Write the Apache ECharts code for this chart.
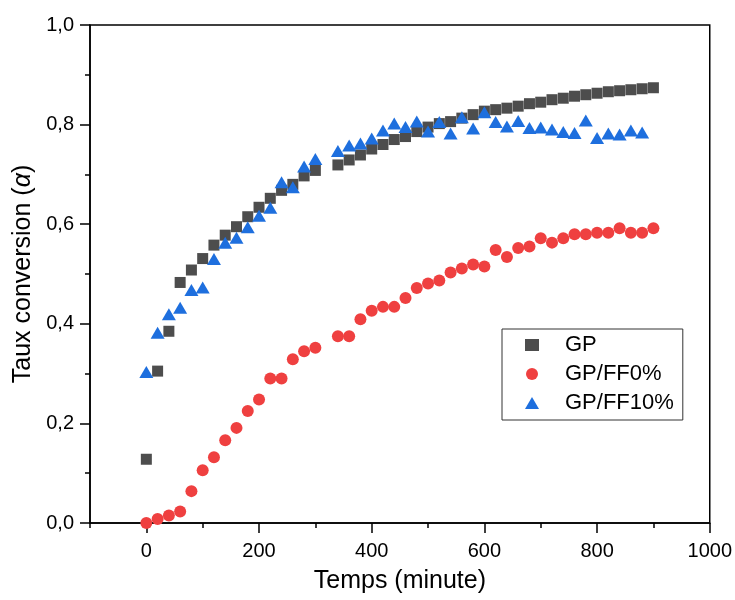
<!DOCTYPE html>
<html>
<head>
<meta charset="utf-8">
<script src="https://cdn.jsdelivr.net/npm/echarts@6/dist/echarts.min.js"></script>
<style>
html,body{margin:0;padding:0;background:#fff;}
#chart{width:735px;height:600px;}
</style>
</head>
<body>
<div id="chart"></div>
<script>
// Time points (minutes)
const timeGP = [0,20,40,60,80,100,120,140,160,180,200,220,240,260,280,300,
  340,360,380,400,420,440,460,480,500,520,540,560,580,600,620,
  640,660,680,700,720,740,760,780,800,820,840,860,880,900];
const timeFF0 = timeGP;
const timeFF10 = [0,20,40,60,80,100,120,140,160,180,200,220,240,260,280,300,
  340,360,380,400,420,440,460,480,500,520,540,560,580,600,620,
  640,660,680,700,720,740,760,780,800,820,840,860,880];

// Conversion rate values
const valGP = [0.128,0.305,0.385,0.483,0.508,0.531,0.558,0.578,0.595,0.615,0.634,0.652,0.668,0.680,0.697,0.708,
  0.719,0.729,0.739,0.751,0.760,0.770,0.776,0.786,0.795,0.802,0.806,0.813,0.820,0.827,0.830,
  0.833,0.837,0.842,0.845,0.850,0.853,0.857,0.860,0.863,0.866,0.868,0.870,0.872,0.874];
const valFF0 = [0.0,0.008,0.015,0.023,0.064,0.106,0.132,0.166,0.191,0.225,0.248,0.290,0.290,0.329,0.345,0.352,
  0.375,0.375,0.409,0.426,0.434,0.434,0.452,0.472,0.481,0.487,0.503,0.511,0.519,0.515,0.548,
  0.534,0.552,0.555,0.572,0.563,0.572,0.580,0.580,0.583,0.583,0.592,0.583,0.583,0.592];
const valFF10 = [0.303,0.382,0.419,0.432,0.468,0.473,0.530,0.563,0.573,0.594,0.617,0.633,0.684,0.674,0.716,0.731,
  0.747,0.758,0.762,0.772,0.788,0.802,0.795,0.806,0.786,0.805,0.782,0.815,0.792,0.825,0.805,
  0.796,0.807,0.793,0.794,0.790,0.785,0.783,0.808,0.773,0.782,0.780,0.788,0.784];

const seriesNames = ['GP','GP/FF0%','GP/FF10%'];
const xMajorTicks = [0,200,400,600,800,1000];
const xMinorTicks = [-100,100,300,500,700,900];

function pairs(xs, ys){ return xs.map((x,i)=>[x, ys[i]]); }

const FONT = 'Liberation Sans, Arial, Helvetica, sans-serif';
const lineStyle = {color:'#000', width:1.5};

const chart = echarts.init(document.getElementById('chart'), null, {renderer:'canvas'});
chart.setOption({
  animation:false,
  backgroundColor:'#fff',
  textStyle:{fontFamily:FONT},
  grid:{left:90, right:25, top:25, bottom:77, show:true, borderColor:'#000', borderWidth:1.5, containLabel:false},
  legend:{
    data:seriesNames,
    orient:'vertical',
    left:502, top:329,
    padding:[5,9,6,23],
    itemWidth:14, itemHeight:12, itemGap:7,
    borderColor:'#333', borderWidth:1,
    textStyle:{fontSize:22, color:'#000', fontFamily:FONT, padding:[0,0,0,21]}
  },
  xAxis:[{
    type:'value', min:-100, max:1000,
    name:'Temps (minute)', nameLocation:'middle', nameGap:46,
    nameTextStyle:{fontSize:25, color:'#000', fontFamily:FONT},
    axisLine:{show:true, onZero:false, lineStyle:lineStyle},
    axisTick:{show:true, inside:false, length:10, customValues:xMajorTicks, lineStyle:lineStyle},
    axisLabel:{customValues:xMajorTicks, fontSize:20, color:'#000', margin:18, fontFamily:FONT,
      formatter:v=>String(v)},
    splitLine:{show:false}
  },{
    type:'value', min:-100, max:1000, position:'bottom',
    axisLine:{show:false, onZero:false},
    axisTick:{show:true, inside:false, length:5, customValues:xMinorTicks, lineStyle:lineStyle},
    axisLabel:{show:false},
    splitLine:{show:false}
  }],
  yAxis:{
    type:'value', min:0, max:1, interval:0.2,
    name:'Taux conversion ({a|\u03B1})', nameLocation:'middle', nameGap:52,
    nameTextStyle:{fontSize:25, color:'#000', fontFamily:FONT,
      rich:{a:{fontSize:25, fontStyle:'italic', color:'#000', fontFamily:FONT}}},
    axisLine:{show:true, onZero:false, lineStyle:lineStyle},
    axisTick:{show:true, inside:false, length:10, lineStyle:lineStyle},
    minorTick:{show:true, splitNumber:2, length:5, lineStyle:lineStyle},
    axisLabel:{fontSize:20, color:'#000', margin:16, fontFamily:FONT,
      formatter:v=>v.toFixed(1).replace('.',',')},
    splitLine:{show:false}
  },
  series:[
    {name:seriesNames[0], type:'scatter', xAxisIndex:0, symbol:'rect', symbolSize:11,
      itemStyle:{color:'#4d4d4d', opacity:1}, data:pairs(timeGP, valGP)},
    {name:seriesNames[1], type:'scatter', xAxisIndex:0, symbol:'circle', symbolSize:12,
      itemStyle:{color:'#ef4040', opacity:1}, data:pairs(timeFF0, valFF0)},
    {name:seriesNames[2], type:'scatter', xAxisIndex:0, symbol:'triangle', symbolSize:[14,12],
      itemStyle:{color:'#1e6fde', opacity:1}, data:pairs(timeFF10, valFF10)}
  ]
});
</script>
</body>
</html>
